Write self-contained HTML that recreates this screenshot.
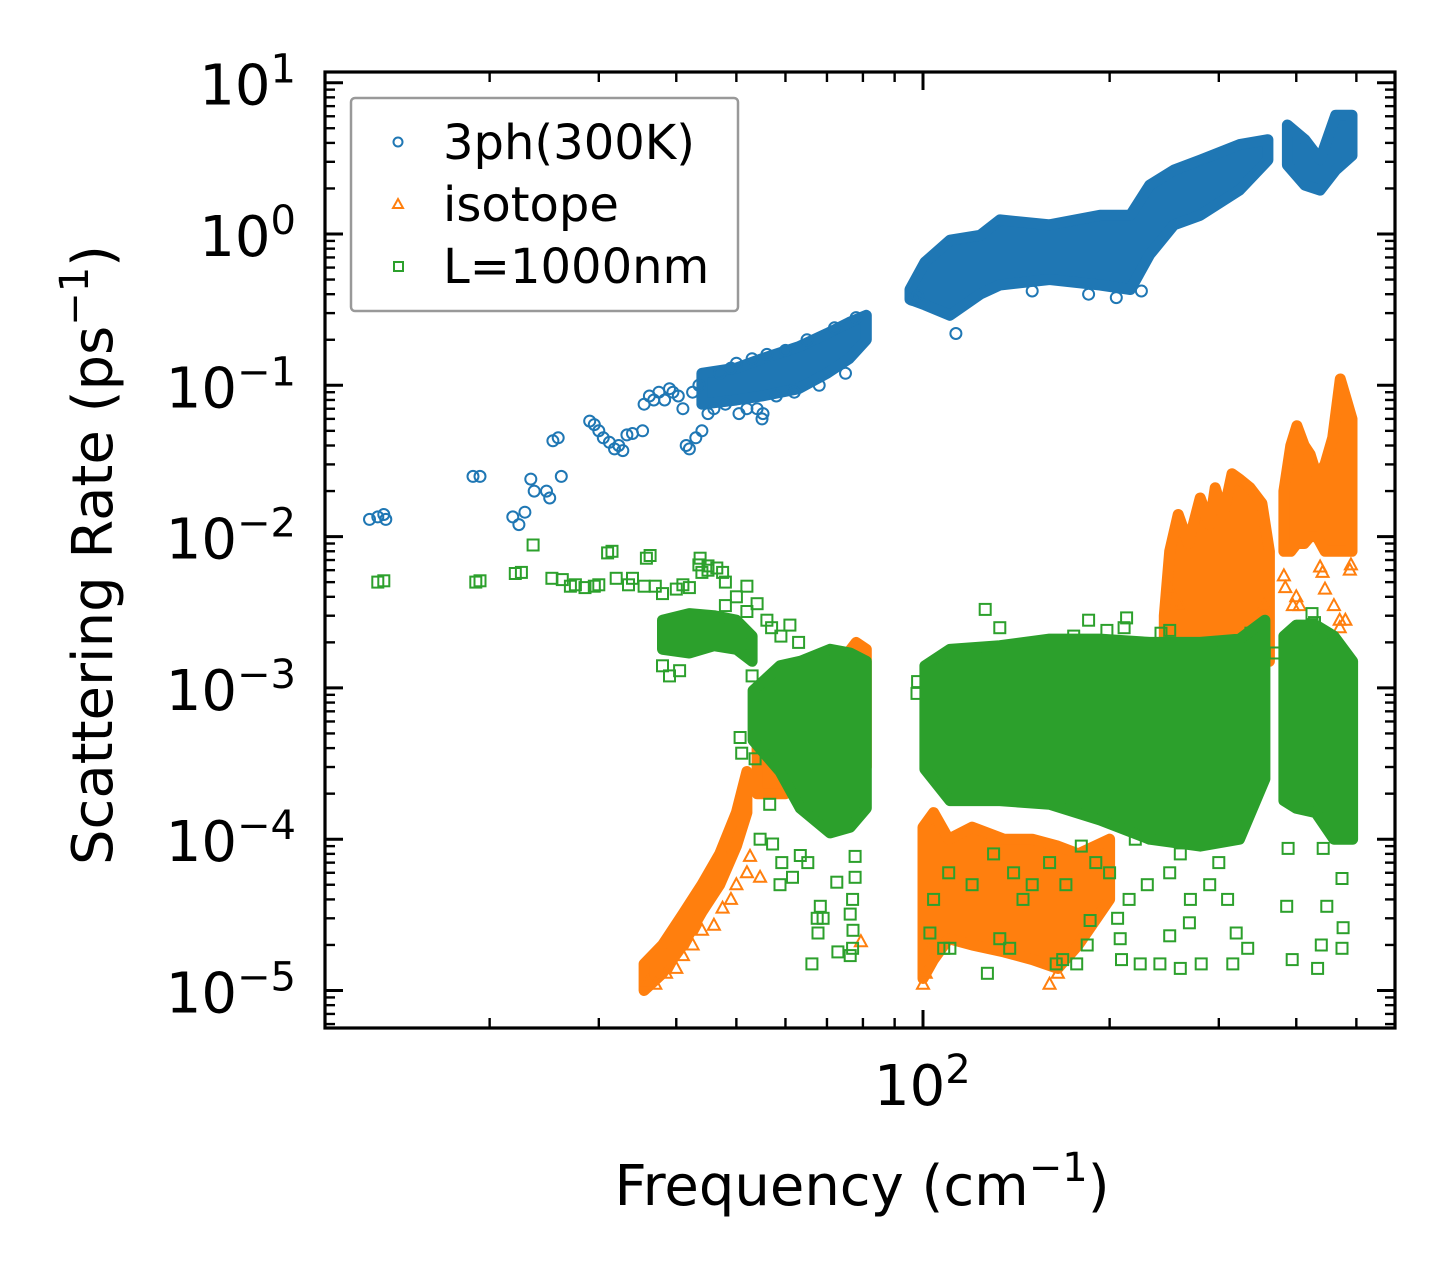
<!DOCTYPE html>
<html><head><meta charset="utf-8"><style>
html,body{margin:0;padding:0;background:#fff}
svg{display:block}
text{font-family:"DejaVu Sans","Liberation Sans",sans-serif;fill:#000}
</style></head><body>
<svg id="chart" width="1455" height="1279" viewBox="0 0 1455 1279" xmlns="http://www.w3.org/2000/svg">
<rect width="1455" height="1279" fill="#fff"/>
<g id="bands"></g>
<g id="marks"></g>
<g id="axes"></g>
<text x="112" y="555" transform="rotate(-90 112 555)" text-anchor="middle" font-size="56">Scattering Rate (ps<tspan font-size="40" dy="-24">−1</tspan><tspan dy="24">)</tspan></text>
<text x="862" y="1205" text-anchor="middle" font-size="56">Frequency (cm<tspan font-size="40" dy="-24">−1</tspan><tspan dy="24">)</tspan></text>
<g>
<rect x="351" y="98" width="387" height="213" rx="4" fill="#fff" fill-opacity="0.8" stroke="#999" stroke-width="2.5"/>
<circle cx="398" cy="142" r="4.5" fill="none" stroke="#1f77b4" stroke-width="2"/>
<text x="443" y="159" font-size="48">3ph(300K)</text>
<path d="M398,199 L403,208 L393,208 Z" fill="none" stroke="#ff7f0e" stroke-width="2"/>
<text x="443" y="221" font-size="48">isotope</text>
<rect x="394" y="262" width="9" height="9" fill="none" stroke="#2ca02c" stroke-width="2"/>
<text x="443" y="283" font-size="48">L=1000nm</text>
</g>
</svg>
<script>
// ---- data ----
const yTickExps = [1, 0, -1, -2, -3, -4, -5];
const xTickExps = [2];
// blue (3ph 300K) sparse points
const blueF = [12.8,13.2,13.5,13.6,18.8,19.3,21.8,22.3,22.8,23.3,23.6,24.7,25.0,25.3,25.8,26.1,29,29.5,30,30.5,31.2,31.8,32.3,32.8,33.3,34,35.3,35.5,36.2,36.8,37.5,38.3,39,39.5,40.3,41,41.5,42,42.5,43,43.5,44,45,50.5,55,55.2,113,150,185,205,225,96,98,46,47,48,49,50,52,53,54,56,58,60,62,65,68,72,75,78];
const blueR = [0.013,0.0135,0.014,0.013,0.025,0.025,0.0135,0.012,0.0145,0.024,0.02,0.02,0.018,0.043,0.045,0.025,0.058,0.055,0.05,0.045,0.042,0.038,0.04,0.037,0.047,0.048,0.05,0.075,0.085,0.08,0.09,0.08,0.095,0.09,0.085,0.07,0.04,0.038,0.09,0.045,0.1,0.05,0.065,0.065,0.06,0.065,0.22,0.42,0.4,0.38,0.42,0.37,0.39,0.07,0.12,0.075,0.13,0.14,0.07,0.15,0.07,0.16,0.085,0.17,0.09,0.2,0.1,0.24,0.12,0.28];
// blue dense envelopes
const blueBand1F = [44,50,55,63,70,76,81];
const blueBand1Hi = [0.12,0.13,0.15,0.18,0.22,0.26,0.29];
const blueBand1Lo = [0.075,0.08,0.085,0.095,0.12,0.15,0.2];
const blueBand2F = [95.3,100.7,110.5,123.6,133,160,193,216,232,254,280,324,360];
const blueBand2Hi = [0.43,0.65,0.91,0.98,1.24,1.15,1.33,1.33,2.1,2.65,3.08,3.9,4.2];
const blueBand2Lo = [0.37,0.34,0.29,0.4,0.46,0.5,0.46,0.43,0.73,1.15,1.33,1.95,3.08];
const blueBand3F = [387,413,437,463,492];
const blueBand3Hi = [5.25,4.2,3.1,6.1,6.1];
const blueBand3Lo = [2.86,2.1,1.95,2.65,3.3];
// orange (isotope)
const orangeF = [36,37,38.5,40,41,42.5,44,46,47.5,49,50,52,52.6,54.6,79.4,100,101,103,160,165,382,384,395,400,405,445,460,470,480,488,490,437,441,400,470,250,260,355];
const orangeR = [0.0000115,0.000011,0.000013,0.000014,0.000017,0.00002,0.000025,0.000027,0.000035,0.00004,0.00005,0.00006,0.000077,0.000056,0.000021,0.000011,0.000013,0.00002,0.000011,0.000013,0.0055,0.0046,0.0035,0.004,0.0035,0.0045,0.0035,0.0028,0.0028,0.006,0.0065,0.0063,0.0058,0.0022,0.0025,0.0045,0.0035,0.0035];
const orangeBand1F = [35.5,38,41,44,47,50,52];
const orangeBand1Hi = [0.000015,0.00002,0.000032,0.00005,0.00008,0.00015,0.00028];
const orangeBand1Lo = [0.00001,0.000013,0.00002,0.000033,0.00005,0.00009,0.00015];
const orangeBand2F = [54,60,66,72,78,81];
const orangeBand2Hi = [0.0005,0.0008,0.001,0.0013,0.002,0.0018];
const orangeBand2Lo = [0.0002,0.0002,0.0003,0.0003,0.0003,0.0003];
const orangeBand3F = [100,104,110,120,135,150,165,178,200];
const orangeBand3Hi = [0.00012,0.00015,0.0001,0.00012,0.0001,0.0001,0.00009,0.00008,0.0001];
const orangeBand3Lo = [0.000012,0.000016,0.000022,0.00002,0.000018,0.000016,0.000014,0.00002,0.00004];
const orangeBand4F = [245,250,258,268,280,290,296,305,315,324,337,352,362];
const orangeBand4Hi = [0.003,0.008,0.014,0.009,0.018,0.012,0.021,0.014,0.026,0.024,0.021,0.0166,0.008];
const orangeBand4Lo = [0.002,0.002,0.002,0.002,0.002,0.002,0.002,0.002,0.002,0.002,0.002,0.002,0.0015];
const orangeBand5F = [382,392,401,412,421,432,445,458,471,482,492];
const orangeBand5Hi = [0.02,0.04,0.054,0.04,0.035,0.025,0.03,0.045,0.11,0.08,0.06];
const orangeBand5Lo = [0.008,0.008,0.009,0.009,0.01,0.01,0.008,0.008,0.008,0.008,0.008];
// green (boundary L=1000nm)
const greenF = [13.2,13.5,19,19.3,22,22.5,23.5,25.2,26.2,27,27.5,28.5,29.5,30,31,31.5,32,33.5,34,35.5,37,35.8,38,40,41,42,43.5,44,45,36.3,43.7,45,46.5,47.5,48,52,38,39,40.5,
 50.7,51,53.6,56.6,54.6,57.2,59.2,58.8,61.6,63.4,65.2,66.2,68.3,67.7,69,72.6,72.9,76.3,77.1,77,77.7,77.7,76.3,77,67.5,
 97.8,98,102.6,108,110.5,127,104,133,138,164,168,177,184,186,206,208,209,224,241,250,260,269,281,316,320,334,386,394,433,439,448,474,476,388,442,474,
 110,120,140,150,160,170,190,200,215,230,250,270,290,310,220,260,180,130,145,300,
 126,133,175,185,198,211,213,242,250,338,424,428,415,370,
 48,50,52,54,56,57,59,61,63,53,55];
const greenR = [0.005,0.0051,0.005,0.0051,0.0057,0.0058,0.0088,0.0053,0.0052,0.0047,0.0048,0.0046,0.0047,0.0048,0.0078,0.008,0.0053,0.0048,0.0053,0.0047,0.0047,0.0072,0.0042,0.0045,0.0048,0.0046,0.0065,0.0058,0.006,0.0075,0.0072,0.0064,0.0062,0.0058,0.005,0.0047,0.0014,0.0012,0.0013,
 0.00047,0.00037,0.00034,0.00017,0.0001,0.000093,0.00007,0.00005,0.000056,0.000078,0.00007,0.000015,0.000036,0.000024,0.00003,0.000052,0.000018,0.000017,0.000025,0.00004,0.000056,0.000077,0.000032,0.000019,0.00003,
 0.00092,0.0011,0.000024,0.000019,0.000019,0.000013,0.00004,0.000022,0.000019,0.000015,0.000016,0.000015,0.00002,0.000029,0.00003,0.000022,0.000016,0.000015,0.000015,0.000023,0.000014,0.000028,0.000015,0.000015,0.000024,0.000019,0.000036,0.000016,0.000014,0.00002,0.000036,0.000019,0.000026,0.000087,0.000087,0.000055,
 0.00006,0.00005,0.00006,0.00005,0.00007,0.00005,0.00007,0.00006,0.00004,0.00005,0.00006,0.00004,0.00005,0.00004,0.0001,0.00008,0.00009,0.00008,0.00004,0.00007,
 0.0033,0.0025,0.0022,0.0028,0.0024,0.0025,0.0029,0.0023,0.0024,0.0023,0.0031,0.0027,0.0021,0.0017,
 0.0035,0.004,0.0032,0.0036,0.0028,0.0025,0.0022,0.0026,0.002,0.0012,0.0009];
const greenBand1F = [38,42,46,50,53];
const greenBand1Hi = [0.0028,0.0031,0.003,0.0028,0.0022];
const greenBand1Lo = [0.0018,0.0017,0.0019,0.0018,0.0015];
const greenBand2F = [53.2,58.8,63.4,70.8,76.3,81];
const greenBand2Hi = [0.00096,0.0014,0.0015,0.0018,0.0017,0.0015];
const greenBand2Lo = [0.00045,0.00028,0.00016,0.00011,0.00012,0.00016];
const greenBand3F = [100.7,110.5,133,160,193,232,280,324,356];
const greenBand3Hi = [0.0014,0.0018,0.0019,0.0021,0.0021,0.002,0.002,0.0021,0.0028];
const greenBand3Lo = [0.00029,0.00018,0.00018,0.00017,0.000134,0.0001,0.00009,0.0001,0.00025];
const greenBand4F = [382,400,430,460,493];
const greenBand4Hi = [0.0022,0.0026,0.0026,0.0022,0.0015];
const greenBand4Lo = [0.00018,0.00016,0.00015,0.0001,0.0001];

// ---- axes functions ----
const L=325,R=1395,T=72,B=1028;
const X0=923, XDEC=620, Y0=234, YDEC=151.3;
function xs(f){return X0+(Math.log10(f)-2)*XDEC;}
function ys(r){return Y0-Math.log10(r)*YDEC;}
const NS='http://www.w3.org/2000/svg';
function mk(tag,attrs,parent){const e=document.createElementNS(NS,tag);for(const k in attrs)e.setAttribute(k,attrs[k]);parent.appendChild(e);return e;}
const bands=document.getElementById('bands');
const marks=document.getElementById('marks');
const axes=document.getElementById('axes');
const COL={blue:'#1f77b4',orange:'#ff7f0e',green:'#2ca02c'};

function bandIn(parent,F,Hi,Lo,color,name){
  let pts=[];
  for(let i=0;i<F.length;i++)pts.push(xs(F[i]).toFixed(1)+','+ys(Hi[i]).toFixed(1));
  for(let i=F.length-1;i>=0;i--)pts.push(xs(F[i]).toFixed(1)+','+ys(Lo[i]).toFixed(1));
  const p=mk('polygon',{points:pts.join(' '),fill:color,stroke:color,'stroke-width':11,'stroke-linejoin':'round'},parent);
  
  
}
function circ(parent,F,Rr,name){
  const g=mk('g',{},parent);
  
  
  for(let i=0;i<F.length;i++){
    const c=mk('circle',{cx:xs(F[i]).toFixed(1),cy:ys(Rr[i]).toFixed(1),r:5.5,fill:'none',stroke:COL.blue,'stroke-width':2},g);
    
    
  }
}
function tri(parent,F,Rr,name){
  const g=mk('g',{},parent);
  
  
  for(let i=0;i<F.length;i++){
    const x=xs(F[i]),y=ys(Rr[i]);
    const t=mk('path',{d:`M${x},${y-6.5} L${x+6},${y+4.5} L${x-6},${y+4.5} Z`,fill:'none',stroke:COL.orange,'stroke-width':2},g);
    
    
  }
}
function sq(parent,F,Rr,name){
  const g=mk('g',{},parent);
  
  
  for(let i=0;i<F.length;i++){
    const s=mk('rect',{x:(xs(F[i])-5.5).toFixed(1),y:(ys(Rr[i])-5.5).toFixed(1),width:11,height:11,fill:'none',stroke:COL.green,'stroke-width':2},g);
    
    
  }
}
// blue
bandIn(bands,blueBand1F,blueBand1Hi,blueBand1Lo,COL.blue,'band-3ph-low');
bandIn(bands,blueBand2F,blueBand2Hi,blueBand2Lo,COL.blue,'band-3ph-mid');
bandIn(bands,blueBand3F,blueBand3Hi,blueBand3Lo,COL.blue,'band-3ph-high');
circ(bands,blueF,blueR,'series-3ph');
// orange
bandIn(bands,orangeBand1F,orangeBand1Hi,orangeBand1Lo,COL.orange,'band-isotope-1');
bandIn(bands,orangeBand2F,orangeBand2Hi,orangeBand2Lo,COL.orange,'band-isotope-2');
bandIn(bands,orangeBand3F,orangeBand3Hi,orangeBand3Lo,COL.orange,'band-isotope-3');
bandIn(bands,orangeBand4F,orangeBand4Hi,orangeBand4Lo,COL.orange,'band-isotope-4');
bandIn(bands,orangeBand5F,orangeBand5Hi,orangeBand5Lo,COL.orange,'band-isotope-5');
tri(bands,orangeF,orangeR,'series-isotope');
// green on top
bandIn(marks,greenBand1F,greenBand1Hi,greenBand1Lo,COL.green,'band-boundary-1');
bandIn(marks,greenBand2F,greenBand2Hi,greenBand2Lo,COL.green,'band-boundary-2');
bandIn(marks,greenBand3F,greenBand3Hi,greenBand3Lo,COL.green,'band-boundary-3');
bandIn(marks,greenBand4F,greenBand4Hi,greenBand4Lo,COL.green,'band-boundary-4');
sq(marks,greenF,greenR,'series-boundary');

// ---- axes ----
const frame=mk('rect',{x:L,y:T,width:R-L,height:B-T,fill:'none',stroke:'#000','stroke-width':3.2},axes);


function tick(x1,y1,x2,y2,w,name){
  const l=mk('line',{x1,y1,x2,y2,stroke:'#000','stroke-width':w},axes);
  
  
}
for(let e=-6;e<=1;e++){
  const ym=ys(Math.pow(10,e));
  if(ym>=T-1&&ym<=B+1){tick(L,ym,L+18,ym,3,'y-major-tick');tick(R,ym,R-18,ym,3,'y-major-tick');}
  for(let m=2;m<=9;m++){
    const y=ys(m*Math.pow(10,e));
    if(y>T+1&&y<B-1){tick(L,y,L+10,y,2.4,'y-minor-tick');tick(R,y,R-10,y,2.4,'y-minor-tick');}
  }
}
yTickExps.forEach(e=>{
  const y=ys(Math.pow(10,e));
  const t=mk('text',{x:296,y:y+22,'text-anchor':'end','font-size':56},axes);
  
  
  const a=mk('tspan',{},t);a.textContent='10';
  const b=mk('tspan',{'font-size':40,dy:-22},t);b.textContent=(e<0?'−':'')+Math.abs(e);
});
for(let e=1;e<=2;e++){
  for(let m=1;m<=9;m++){
    const f=m*Math.pow(10,e);const x=xs(f);
    if(x<=L+1||x>=R-1)continue;
    const major=(m===1);
    const len=major?18:10,w=major?3:2.4;
    tick(x,B,x,B-len,w,major?'x-major-tick':'x-minor-tick');
    tick(x,T,x,T+len,w,major?'x-major-tick':'x-minor-tick');
  }
}
xTickExps.forEach(e=>{
  const x=xs(Math.pow(10,e));
  const t=mk('text',{x:x-49,y:1105,'font-size':56},axes);
  
  
  const a=mk('tspan',{},t);a.textContent='10';
  const b=mk('tspan',{'font-size':40,dy:-22},t);b.textContent=String(e);
});
</script>
</body></html>
